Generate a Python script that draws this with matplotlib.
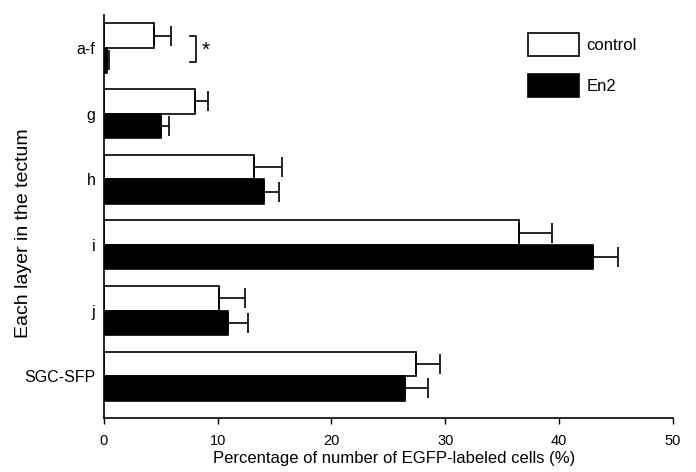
import matplotlib
matplotlib.use("Agg")
import matplotlib.pyplot as plt
import numpy as np

plt.rcParams['font.family'] = ['Liberation Sans', 'DejaVu Sans']

categories = ["a-f", "g", "h", "i", "j", "SGC-SFP"]
control = [4.4, 8.0, 13.2, 36.5, 10.1, 27.4]
control_err = [1.5, 1.2, 2.5, 2.9, 2.3, 2.1]
en2 = [0.3, 5.0, 14.1, 43.0, 10.9, 26.5]
en2_err = [0.2, 0.7, 1.3, 2.2, 1.8, 2.0]
xticks = [0, 10, 20, 30, 40, 50]

fig = plt.figure(figsize=(6.96, 4.72), dpi=100)
ax = fig.add_axes([0.149, 0.114, 0.818, 0.854])

n = len(categories)
pos = np.arange(n)[::-1].astype(float)
h = 0.375
lw = 1.2
ekw = dict(elinewidth=lw, capthick=lw, capsize=7.5, ecolor='black')

ax.barh(pos + h / 2, control, height=h, color='white', edgecolor='black', linewidth=lw,
        xerr=[np.zeros(n), control_err], error_kw=ekw, label='control')
ax.barh(pos - h / 2, en2, height=h, color='black', edgecolor='black', linewidth=lw,
        xerr=[np.zeros(n), en2_err], error_kw=ekw, label='En2')

ax.set_xlim(0, 50)
ax.set_ylim(-0.64, pos[0] + 0.5)
ax.set_xticks(xticks)
ax.set_yticks(pos)
ax.set_yticklabels(categories)
ax.tick_params(axis='y', length=0, pad=6, labelsize=11.5)
ax.tick_params(axis='x', length=4, width=1, labelsize=10.5, direction='out', pad=7.5)
for s in ['top', 'right']:
    ax.spines[s].set_visible(False)
for s in ['left', 'bottom']:
    ax.spines[s].set_linewidth(1.2)

ax.set_xlabel('Percentage of number of EGFP-labeled cells (%)', fontsize=12)
ax.xaxis.set_label_coords(0.51, -0.082)
ax.set_ylabel('Each layer in the tectum', fontsize=14)
ax.yaxis.set_label_coords(-0.126, 0.46)

# significance bracket
y0 = pos[0]
bx = 8.1
ax.plot([bx - 0.5, bx, bx, bx - 0.5], [y0 + 0.18, y0 + 0.18, y0 - 0.22, y0 - 0.22],
        color='black', lw=1.2, clip_on=False)
ax.text(bx + 0.5, y0 - 0.04, '*', fontsize=15, ha='left', va='center')

# legend
leg = ax.legend(loc='upper left', bbox_to_anchor=(0.719, 0.993), frameon=False,
                handlelength=3.05, handleheight=1.75, labelspacing=1.1, fontsize=12,
                handletextpad=0.45, borderpad=0.4)

fig.savefig('out.png', dpi=100)
